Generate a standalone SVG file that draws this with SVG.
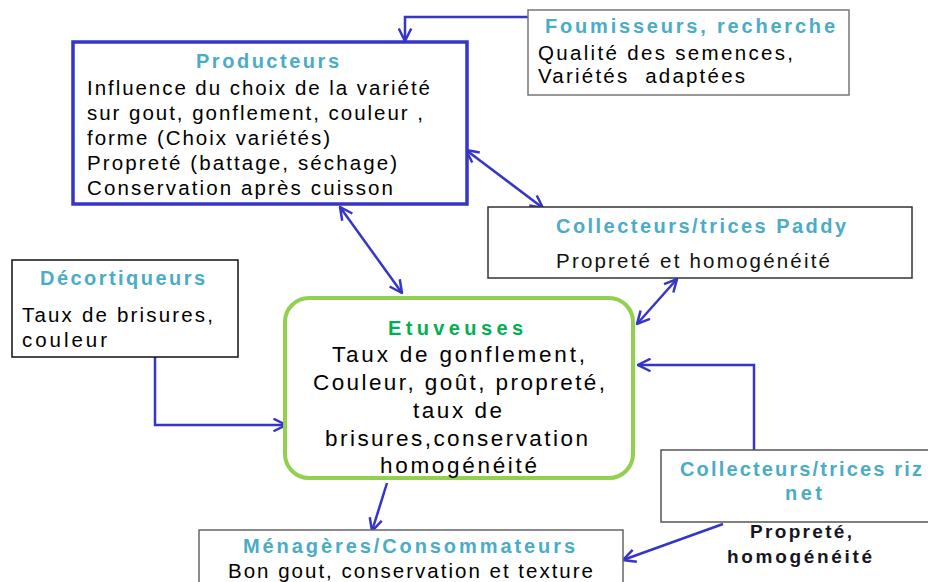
<svg xmlns="http://www.w3.org/2000/svg" width="928" height="582" viewBox="0 0 928 582">
<style>
.box{fill:#fff;stroke:#333;stroke-width:1.5}
.t{font-family:"Liberation Sans",Arial,sans-serif;font-weight:bold;fill:#4bacc6;font-size:20px}
.b{font-family:"Liberation Sans",Arial,sans-serif;fill:#000;font-size:20.5px}
.e{font-size:22.5px}
.c{fill:none;stroke:#3535c8;stroke-width:2.5}
</style>
<defs>
<marker id="ah" viewBox="0 0 12 12" refX="11" refY="6" markerWidth="15" markerHeight="15" markerUnits="userSpaceOnUse" orient="auto-start-reverse">
<path d="M1,1 L11,6 L1,11" fill="none" stroke="#3535c8" stroke-width="2"/>
</marker>
</defs>
<rect width="928" height="582" fill="#fff"/>
<g id="connectors">
<path class="c" d="M528,17 H405 V41" marker-end="url(#ah)"/>
<path class="c" d="M340,207 L402,293" marker-start="url(#ah)" marker-end="url(#ah)"/>
<path class="c" d="M466,150 L543,208" marker-start="url(#ah)" marker-end="url(#ah)"/>
<path class="c" d="M677,279 L637,324" marker-start="url(#ah)" marker-end="url(#ah)"/>
<path class="c" d="M155,357 V425 H286" marker-end="url(#ah)"/>
<path class="c" d="M754,450 V365 H638" marker-end="url(#ah)"/>
<path class="c" d="M387,483 L372,531" marker-end="url(#ah)"/>
<path class="c" d="M723,524 L623,560" marker-end="url(#ah)"/>
</g>
<g id="fournisseurs">
<rect class="box" x="528" y="10" width="321" height="85" style="stroke:#777"/>
<text class="t" x="545" y="33" textLength="290" lengthAdjust="spacing">Foumisseurs, recherche</text>
<text class="b" x="538" y="60" textLength="255" lengthAdjust="spacing">Qualité des semences,</text>
<text class="b" x="538" y="83" textLength="207" lengthAdjust="spacing" xml:space="preserve">Variétés  adaptées</text>
</g>
<g id="producteurs">
<rect x="73" y="42" width="394" height="162" fill="#fff" stroke="#3535c8" stroke-width="3.5"/>
<text class="t" x="196" y="68" textLength="143" lengthAdjust="spacing">Producteurs</text>
<text class="b" x="87" y="95" textLength="343" lengthAdjust="spacing">Influence du choix de la variété</text>
<text class="b" x="87" y="120" textLength="336" lengthAdjust="spacing">sur gout, gonflement, couleur ,</text>
<text class="b" x="87" y="145" textLength="243" lengthAdjust="spacing">forme (Choix variétés)</text>
<text class="b" x="87" y="170" textLength="310" lengthAdjust="spacing">Propreté (battage, séchage)</text>
<text class="b" x="87" y="195" textLength="306" lengthAdjust="spacing">Conservation après cuisson</text>
</g>
<g id="paddy">
<rect class="box" x="488" y="207" width="424" height="71"/>
<text class="t" x="556" y="233" textLength="290" lengthAdjust="spacing">Collecteurs/trices Paddy</text>
<text class="b" x="556" y="268" textLength="274" lengthAdjust="spacing" style="fill:#111">Propreté et homogénéité</text>
</g>
<g id="decortiqueurs">
<rect class="box" x="12" y="260" width="226" height="97" style="stroke:#111"/>
<text class="t" x="40" y="285" textLength="165" lengthAdjust="spacing">Décortiqueurs</text>
<text class="b" x="22" y="322" textLength="191" lengthAdjust="spacing">Taux de brisures,</text>
<text class="b" x="22" y="347" textLength="85" lengthAdjust="spacing">couleur</text>
</g>
<g id="etuveuses">
<rect x="285" y="298" width="348" height="180" rx="24" fill="#fff" stroke="#92d050" stroke-width="4"/>
<text class="t" x="388" y="335" textLength="135" lengthAdjust="spacing" style="fill:#00b050">Etuveuses</text>
<text class="b e" x="332" y="362" textLength="253" lengthAdjust="spacing">Taux de gonflement,</text>
<text class="b e" x="313" y="390" textLength="292" lengthAdjust="spacing">Couleur, goût, propreté,</text>
<text class="b e" x="413" y="418" textLength="89" lengthAdjust="spacing">taux de</text>
<text class="b e" x="325" y="446" textLength="263" lengthAdjust="spacing">brisures,conservation</text>
<text class="b e" x="380" y="473" textLength="157" lengthAdjust="spacing">homogénéité</text>
</g>
<g id="riznet">
<rect class="box" x="661" y="450" width="275" height="72" style="stroke:#555"/>
<text class="t" x="680" y="476" textLength="242" lengthAdjust="spacing">Collecteurs/trices riz</text>
<text class="t" x="785" y="500" textLength="37" lengthAdjust="spacing">net</text>
<text class="b" x="750" y="538" textLength="102" lengthAdjust="spacing" style="font-weight:bold;fill:#151525;font-size:19px">Propreté,</text>
<text class="b" x="727" y="563" textLength="145" lengthAdjust="spacing" style="font-weight:bold;fill:#151525;font-size:19px">homogénéité</text>
</g>
<g id="menageres">
<rect class="box" x="199" y="530" width="424" height="70" style="stroke:#666"/>
<text class="t" x="243" y="553" textLength="332" lengthAdjust="spacing">Ménagères/Consommateurs</text>
<text class="b" x="228" y="578" textLength="365" lengthAdjust="spacing">Bon gout, conservation et texture</text>
</g>
</svg>
